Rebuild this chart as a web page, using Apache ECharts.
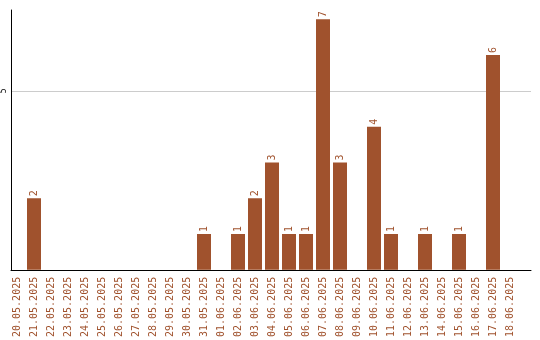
<!DOCTYPE html>
<html><head><meta charset="utf-8">
<script src="https://cdn.jsdelivr.net/npm/echarts@6/dist/echarts.min.js"></script>
<style>html,body{margin:0;padding:0;background:#fff}#c{width:540px;height:340px}</style>
</head><body><div id="c"></div>
<script>
var categories = ['20.05.2025','21.05.2025','22.05.2025','23.05.2025','24.05.2025','25.05.2025','26.05.2025','27.05.2025','28.05.2025','29.05.2025','30.05.2025','31.05.2025','01.06.2025','02.06.2025','03.06.2025','04.06.2025','05.06.2025','06.06.2025','07.06.2025','08.06.2025','09.06.2025','10.06.2025','11.06.2025','12.06.2025','13.06.2025','14.06.2025','15.06.2025','16.06.2025','17.06.2025','18.06.2025'];
var values = [0,2,0,0,0,0,0,0,0,0,0,1,0,1,2,3,1,1,7,3,0,4,1,0,1,0,1,0,6,0];
var yMax = 7.26;
var color = '#A0522D';
var chart = echarts.init(document.getElementById('c'), null, {renderer:'canvas'});
chart.setOption({
  animation:false,
  grid:[
    {left:10, right:9, top:10, height:260},
    {left:8.5, width:510, top:10, height:260}
  ],
  xAxis:[
    {gridIndex:0, type:'category', data:categories, axisLine:{lineStyle:{color:'#000',width:1}}, axisTick:{show:false}, axisLabel:{show:false}},
    {gridIndex:1, type:'category', data:categories, axisLine:{show:false}, axisTick:{show:false},
     axisLabel:{rotate:90, interval:0, color:color, fontFamily:'DejaVu Sans Mono', fontSize:10, margin:7}}
  ],
  yAxis:[
    {gridIndex:0, type:'value', min:0, max:yMax, interval:5,
     axisLine:{show:true, lineStyle:{color:'#000',width:1}}, axisTick:{show:false},
     axisLabel:{rotate:90, color:'#000', fontFamily:'DejaVu Sans Mono', fontSize:8, margin:3, showMaxLabel:false, showMinLabel:false},
     splitLine:{show:true, showMinLine:false, showMaxLine:false, lineStyle:{color:'#cccccc',width:1}}},
    {gridIndex:1, type:'value', min:0, max:yMax, show:false, splitLine:{show:false}}
  ],
  series:[{
    type:'bar', xAxisIndex:1, yAxisIndex:1, data:values, barWidth:14,
    itemStyle:{color:color},
    label:{show:true, position:'top', rotate:90, align:'left', verticalAlign:'middle', distance:2,
      color:color, fontFamily:'DejaVu Sans Mono', fontSize:10,
      formatter:function(p){return p.value?String(p.value):'';}}
  }]
});
</script></body></html>
